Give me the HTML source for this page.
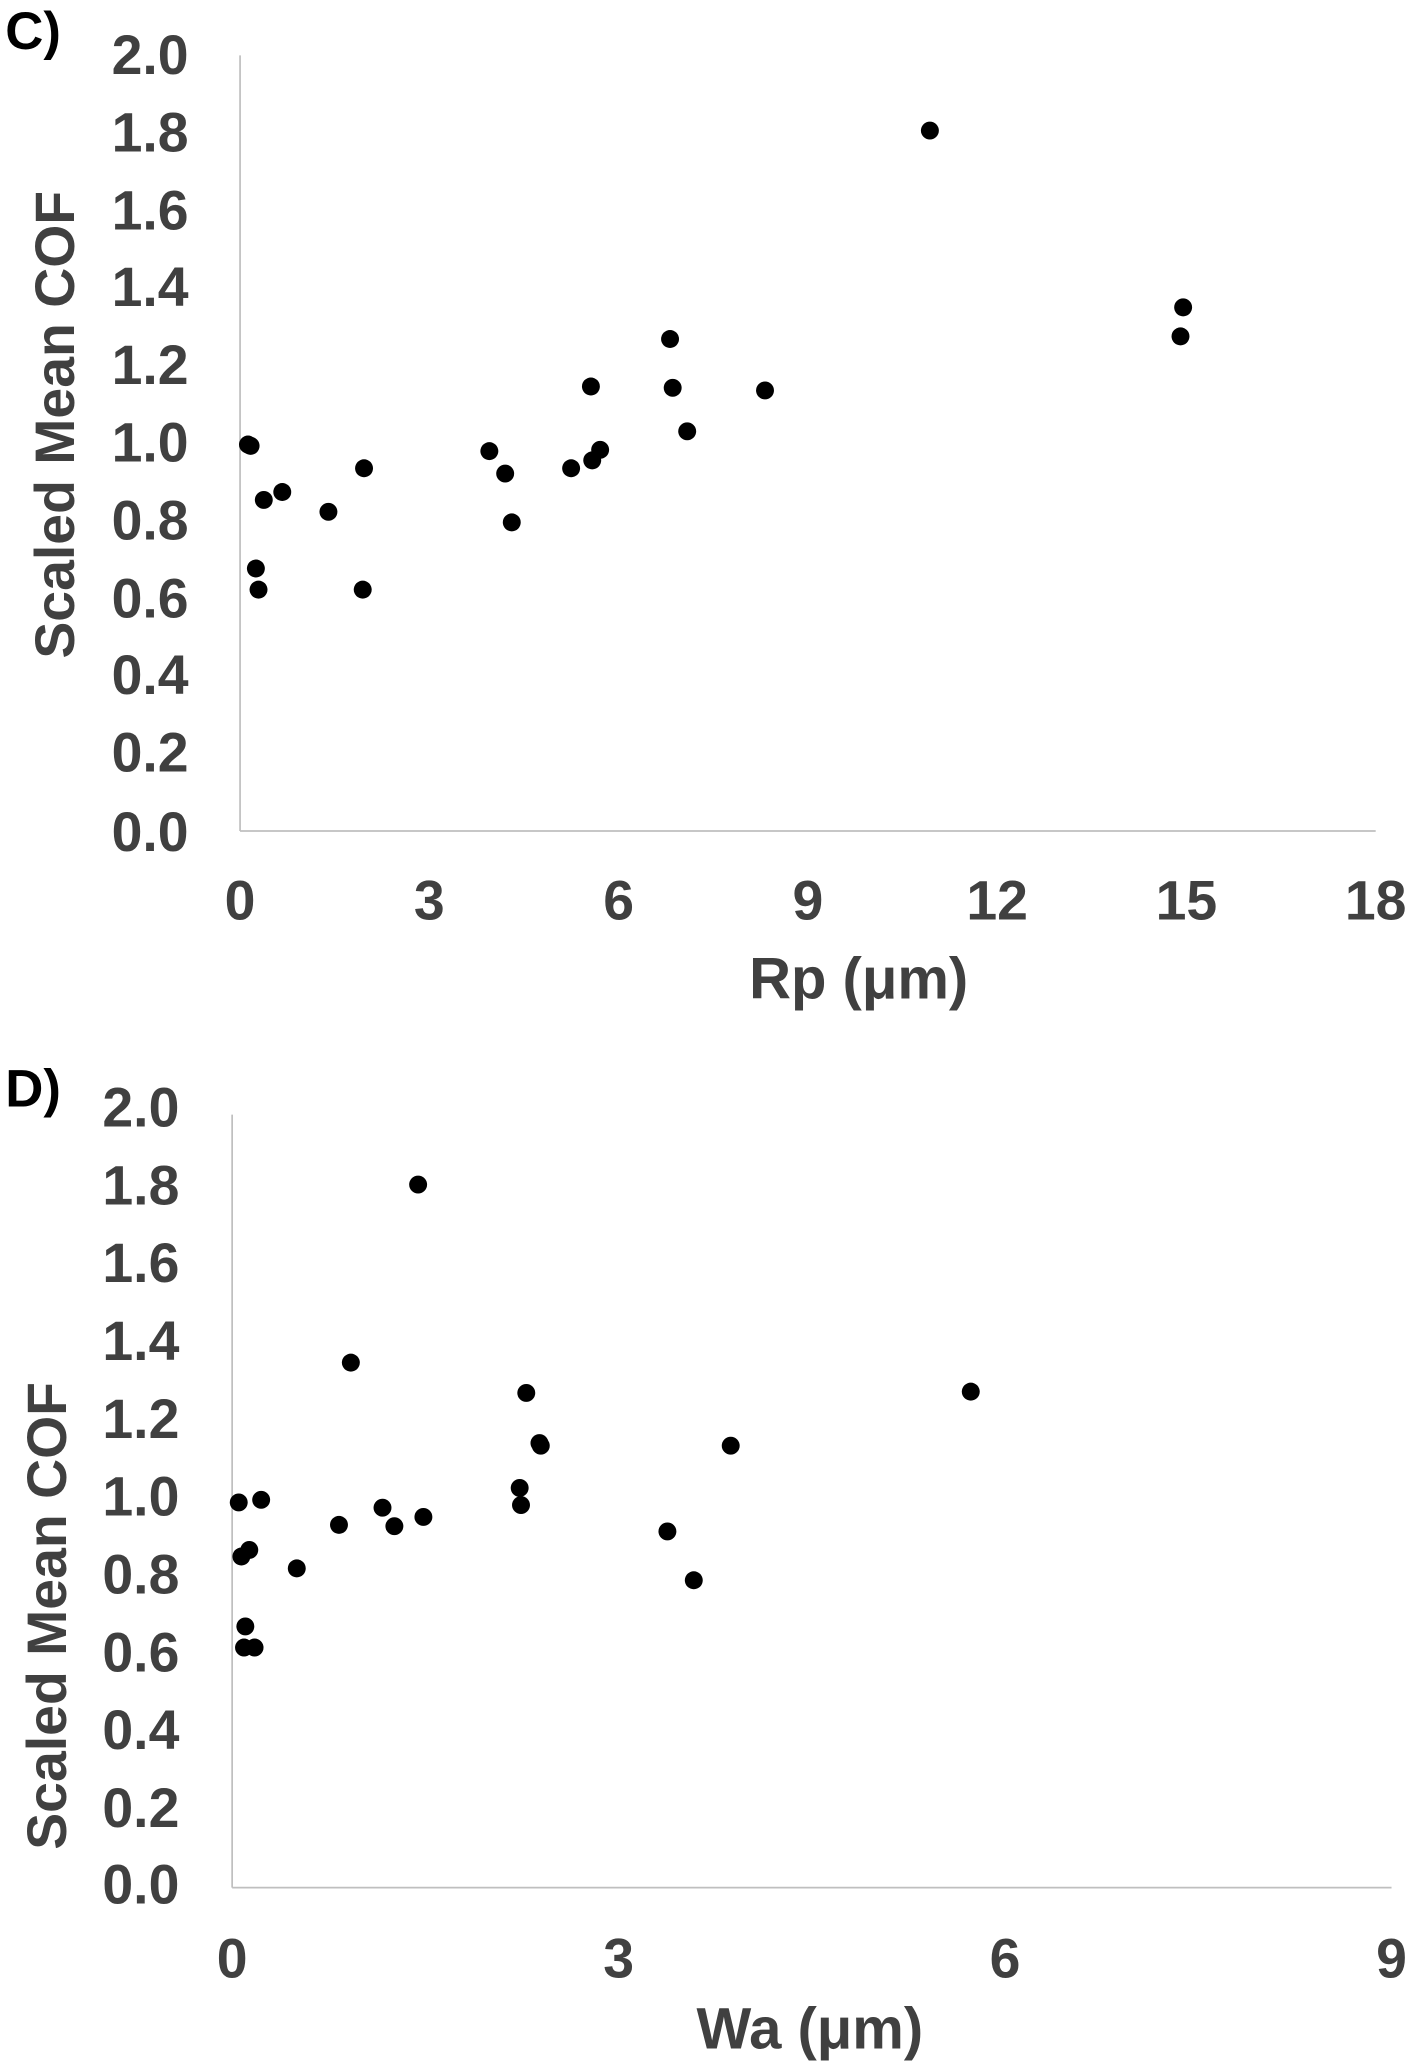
<!DOCTYPE html>
<html><head><meta charset="utf-8"><style>html,body{margin:0;padding:0;background:#fff}svg{display:block}</style></head>
<body>
<svg width="1410" height="2067" viewBox="0 0 1069 1567" preserveAspectRatio="none" xmlns="http://www.w3.org/2000/svg" font-family="Liberation Sans, Arial, sans-serif" font-weight="bold">
<!-- Chart C -->
<text x="4" y="37" font-size="40" fill="#000">C)</text>
<line x1="182" y1="42" x2="182" y2="630" stroke="#bfbfbf" stroke-width="1.3"/>
<line x1="182" y1="630" x2="1043" y2="630" stroke="#bfbfbf" stroke-width="1.3"/>
<g fill="#404040" font-size="42" text-anchor="end">
<text x="143" y="56">2.0</text><text x="143" y="115">1.8</text><text x="143" y="174">1.6</text><text x="143" y="232">1.4</text><text x="143" y="291">1.2</text><text x="143" y="350">1.0</text><text x="143" y="409">0.8</text><text x="143" y="468">0.6</text><text x="143" y="526">0.4</text><text x="143" y="585">0.2</text><text x="143" y="645">0.0</text>
</g>
<g fill="#404040" font-size="42" text-anchor="middle">
<text x="182" y="697">0</text><text x="325.5" y="697">3</text><text x="469" y="697">6</text><text x="612.5" y="697">9</text><text x="756" y="697">12</text><text x="899.5" y="697">15</text><text x="1043" y="697">18</text>
<text x="651" y="757" font-size="44">Rp (μm)</text>
<text transform="translate(56,322) rotate(-90)" font-size="42">Scaled Mean COF</text>
</g>
<g fill="#000">
<circle cx="188" cy="337" r="6.8"/><circle cx="190" cy="338" r="6.8"/><circle cx="200" cy="379" r="6.8"/><circle cx="214" cy="373" r="6.8"/><circle cx="194" cy="431" r="6.8"/><circle cx="196" cy="447" r="6.8"/><circle cx="249" cy="388" r="6.8"/><circle cx="276" cy="355" r="6.8"/><circle cx="275" cy="447" r="6.8"/><circle cx="371" cy="342" r="6.8"/><circle cx="383" cy="359" r="6.8"/><circle cx="388" cy="396" r="6.8"/><circle cx="433" cy="355" r="6.8"/><circle cx="448" cy="293" r="6.8"/><circle cx="449" cy="349" r="6.8"/><circle cx="455" cy="341" r="6.8"/><circle cx="508" cy="257" r="6.8"/><circle cx="510" cy="294" r="6.8"/><circle cx="521" cy="327" r="6.8"/><circle cx="580" cy="296" r="6.8"/><circle cx="705" cy="99" r="6.8"/><circle cx="895" cy="255" r="6.8"/><circle cx="897" cy="233" r="6.8"/>
</g>
<!-- Chart D -->
<text x="4" y="839" font-size="40" fill="#000">D)</text>
<line x1="176" y1="845" x2="176" y2="1431" stroke="#bfbfbf" stroke-width="1.3"/>
<line x1="176" y1="1431" x2="1055" y2="1431" stroke="#bfbfbf" stroke-width="1.3"/>
<g fill="#404040" font-size="42" text-anchor="end">
<text x="136" y="854">2.0</text><text x="136" y="913">1.8</text><text x="136" y="972">1.6</text><text x="136" y="1031">1.4</text><text x="136" y="1090">1.2</text><text x="136" y="1149">1.0</text><text x="136" y="1208">0.8</text><text x="136" y="1267">0.6</text><text x="136" y="1326">0.4</text><text x="136" y="1385">0.2</text><text x="136" y="1443">0.0</text>
</g>
<g fill="#404040" font-size="42" text-anchor="middle">
<text x="176" y="1499">0</text><text x="469" y="1499">3</text><text x="762" y="1499">6</text><text x="1055" y="1499">9</text>
<text x="614" y="1553" font-size="44">Wa (μm)</text>
<text transform="translate(50,1225) rotate(-90)" font-size="42">Scaled Mean COF</text>
</g>
<g fill="#000">
<circle cx="181" cy="1139" r="6.8"/><circle cx="183" cy="1180" r="6.8"/><circle cx="189" cy="1175" r="6.8"/><circle cx="198" cy="1137" r="6.8"/><circle cx="186" cy="1233" r="6.8"/><circle cx="185" cy="1249" r="6.8"/><circle cx="193" cy="1249" r="6.8"/><circle cx="225" cy="1189" r="6.8"/><circle cx="257" cy="1156" r="6.8"/><circle cx="266" cy="1033" r="6.8"/><circle cx="290" cy="1143" r="6.8"/><circle cx="299" cy="1157" r="6.8"/><circle cx="321" cy="1150" r="6.8"/><circle cx="317" cy="898" r="6.8"/><circle cx="394" cy="1128" r="6.8"/><circle cx="395" cy="1141" r="6.8"/><circle cx="399" cy="1056" r="6.8"/><circle cx="409" cy="1094" r="6.8"/><circle cx="410" cy="1096" r="6.8"/><circle cx="506" cy="1161" r="6.8"/><circle cx="526" cy="1198" r="6.8"/><circle cx="554" cy="1096" r="6.8"/><circle cx="736" cy="1055" r="6.8"/>
</g>
</svg>
</body></html>
